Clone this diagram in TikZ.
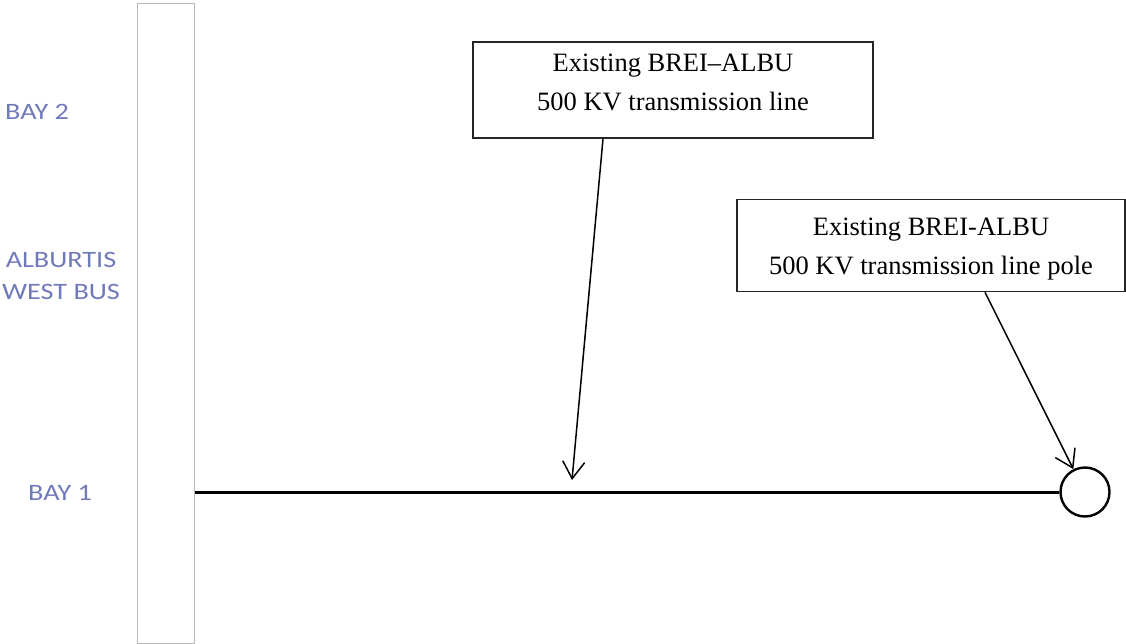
\documentclass[tikz,border=0pt]{standalone}
\usepackage{fontspec}
\setmainfont{Liberation Serif}
\newfontfamily\baylabelfont[FakeStretch=1.2]{Carlito}
\usepackage{xcolor}
\usepackage{tikz}
\usetikzlibrary{arrows.meta, positioning, calc}
\definecolor{baylabel}{RGB}{112,122,186}
\definecolor{busgray}{RGB}{185,185,185}
\tikzset{
  note/.style     = {rectangle, draw=black!85, line width=1.6pt, align=center,
                     font=\fontsize{26.5}{39}\selectfont, inner sep=0pt,
                     text height=57pt},
  baytag/.style   = {font=\baylabelfont\fontsize{23.5}{32}\selectfont,
                     text=baylabel, inner sep=0pt, align=center},
  busbar/.style   = {rectangle, draw=busgray, line width=0.9pt,
                     minimum width=57pt, minimum height=640pt, inner sep=0pt},
  tline/.style    = {line width=3pt},
  towerpole/.style= {circle, draw, line width=2.4pt, minimum size=49pt,
                     inner sep=0pt},
  callout/.style  = {-{Straight Barb[length=17pt, width=22pt, line width=1.5pt]},
                     line width=1.5pt},
}
\begin{document}
\begin{tikzpicture}[x=1pt, y=-1pt]
  \useasboundingbox (0,0) rectangle (1126,644);

  % bus and bay labels
  \node[busbar] (westbus) at (166,323) {};
  \node[baytag, anchor=base west] (bay2) at (5,120) {BAY 2};
  \node[baytag, anchor=north] (busname) at (61,252) {ALBURTIS\\WEST BUS};
  \node[baytag, anchor=base west] (bay1) at (28,500) {BAY 1};

  % line out to the pole
  \node[towerpole] (pole) at (1085,492) {};
  \draw[tline] (westbus.east |- pole) -- (pole.west);

  % notes
  \node[note, minimum width=400pt, minimum height=96pt, text depth=15pt]
    (linenote) at (673,90) {Existing BREI--ALBU\\500 KV transmission line};
  \node[note, minimum width=388pt, minimum height=92pt, text depth=0pt]
    (polenote) at (931,245.5) {Existing BREI-ALBU\\500 KV transmission line pole};

  \coordinate (linetip) at (572,480);
  \draw[callout] ([xshift=-70pt]linenote.south) -- (linetip);
  \draw[callout] ([xshift=54pt]polenote.south) -- (pole.117);
\end{tikzpicture}
\end{document}
